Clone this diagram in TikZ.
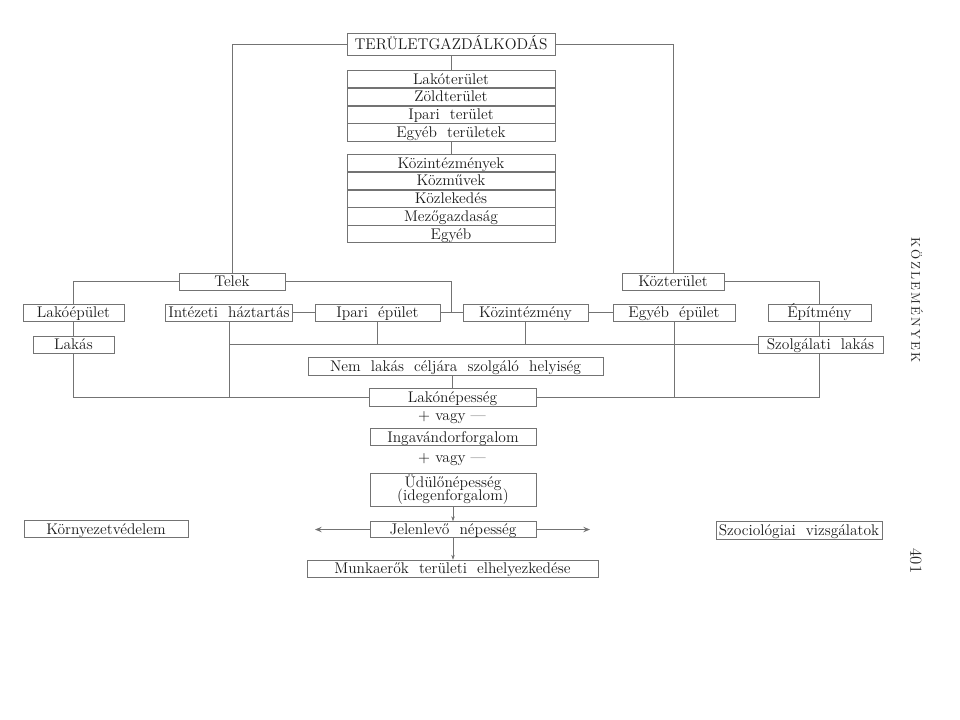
\documentclass[tikz,border=0pt]{standalone}
\usepackage{tikz}
\usetikzlibrary{arrows.meta, positioning}
\tikzstyle{cell} = [rectangle, draw=black!55, line width=0.4pt, text=black!90, inner xsep=2pt, inner ysep=0pt, minimum height=0.425cm, text height=1.75ex, text depth=0.1ex, text centered, font=\fontsize{11}{12.5}\selectfont]
\tikzstyle{row} = [cell, minimum width=5.2cm, minimum height=0.43cm]
\tikzstyle{link} = [draw=black!55, line width=0.4pt]
\tikzstyle{arrow} = [link, -{Stealth[length=3.5pt, width=2.5pt]}]
\tikzstyle{sidearrow} = [link, -{Stealth[length=5pt, width=4pt, inset=2pt]}]
\tikzstyle{note} = [text=black!90, font=\fontsize{11}{12.5}\selectfont]

\begin{document}
\begin{tikzpicture}[x=0.025cm, y=-0.025cm]
    \useasboundingbox (0,0) rectangle (960,719);

    % Nodes
    \node (top) [cell, minimum width=5.2cm, minimum height=0.55cm] at (451,44) {TERÜLETGAZDÁLKODÁS};

    \node (lakoter) [row] at (451,79) {Lakóterület};
    \node (zoldter) [row, below=0pt of lakoter] {Zöldterület};
    \node (iparter) [row, below=0pt of zoldter] {Ipari\ \ terület};
    \node (egyebter) [row, below=0pt of iparter] {Egyéb\ \ területek};

    \node (kozintek) [row] at (451,163) {Közintézmények};
    \node (kozmu) [row, below=0pt of kozintek] {Közművek};
    \node (kozlek) [row, below=0pt of kozmu] {Közlekedés};
    \node (mezo) [row, below=0pt of kozlek] {Mezőgazdaság};
    \node (egyeb) [row, below=0pt of mezo] {Egyéb};

    \node (telek) [cell, minimum width=2.65cm] at (232,281.5) {Telek};
    \node (kozter) [cell, minimum width=2.55cm] at (673,281.5) {Közterület};

    \node (lakoep) [cell, minimum width=2.52cm] at (73.5,312.5) {Lakóépület};
    \node (intezeti) [cell, minimum width=3.1cm] at (229,312.5) {Intézeti\ \ háztartás};
    \node (ipari) [cell, minimum width=3.12cm] at (377.5,312.5) {Ipari\ \ épület};
    \node (kozint) [cell, minimum width=3.12cm] at (525.5,312.5) {Közintézmény};
    \node (egyebep) [cell, minimum width=3.05cm] at (674,312.5) {Egyéb\ \ épület};
    \node (epitmeny) [cell, minimum width=2.58cm] at (819.5,312.5) {Építmény};

    \node (lakas) [cell, minimum width=2.02cm] at (73.5,344.5) {Lakás};
    \node (szolg) [cell, minimum width=3.12cm] at (820.5,344.5) {Szolgálati\ \ lakás};

    \node (nemlakas) [cell, minimum width=7.38cm, minimum height=0.45cm] at (455.5,366) {Nem\ \ lakás\ \ céljára\ \ szolgáló\ \ helyiség};
    \node (lakonep) [cell, minimum width=4.17cm, minimum height=0.45cm] at (452.5,397) {Lakónépesség};
    \node (vagy1) [note] at (452,418) {$+$ vagy ---};
    \node (inga) [cell, minimum width=4.15cm] at (453,437) {Ingavándorforgalom};
    \node (vagy2) [note] at (452,460) {$+$ vagy ---};
    \node (udulo) [cell, minimum width=4.15cm, minimum height=0.83cm, align=center, text height=, text depth=] at (453,489.5) {Üdülőnépesség\\[-3pt](idegenforgalom)};
    \node (jelen) [cell, minimum width=4.15cm, minimum height=0.4cm] at (453,529.5) {Jelenlevő\ \ népesség};
    \node (munka) [cell, minimum width=7.28cm] at (452.5,568.5) {Munkaerők\ \ területi\ \ elhelyezkedése};

    \node (kornyezet) [cell, minimum width=4.1cm] at (106,529) {Környezetvédelem};
    \node (szocio) [cell, minimum width=4.15cm, minimum height=0.45cm] at (799,530) {Szociológiai\ \ vizsgálatok};

    \node (kozlemenyek) [text=black!85, rotate=-90, font=\small] at (917,300) {K\,Ö\,Z\,L\,E\,M\,É\,N\,Y\,E\,K};
    \node (oldal) [text=black!85, rotate=-90, font=\large] at (916,561) {401};

    \coordinate (tjoin) at (451,312.5);
    \coordinate (leftend) at (315,529.5);
    \coordinate (rightend) at (590,529.5);

    % Connectors
    \draw [link] (top.west) -| (telek.north);
    \draw [link] (top.east) -| (kozter.north);
    \draw [link] (top.south) -- (lakoter.north);
    \draw [link] (egyebter.south) -- (kozintek.north);

    \draw [link] (telek.west) -| (lakoep.north);
    \draw [link] (lakoep.south) -- (lakas.north);
    \draw [link] (telek.east) -| (tjoin);
    \draw [link] (intezeti.east) -- (ipari.west);
    \draw [link] (ipari.east) -- (kozint.west);
    \draw [link] (kozint.east) -- (egyebep.west);
    \draw [link] (kozter.east) -| (epitmeny.north);
    \draw [link] (epitmeny.south) -- (epitmeny.south |- szolg.north);

    \draw [link] (intezeti.south |- szolg.west) -- (szolg.west);
    \draw [link] (ipari.south) -- (ipari.south |- szolg.west);
    \draw [link] (kozint.south) -- (kozint.south |- szolg.west);

    \draw [link] (lakas.south) |- (lakonep.west);
    \draw [link] (szolg.south -| epitmeny.south) |- (lakonep.east);
    \draw [link] (intezeti.south) -- (intezeti.south |- lakonep.west);
    \draw [link] (egyebep.south) -- (egyebep.south |- lakonep.east);
    \draw [link] (lakonep.north |- nemlakas.south) -- (lakonep.north);

    \draw [arrow] (udulo.south) -- (jelen.north);
    \draw [arrow] (jelen.south) -- (jelen.south |- munka.north);
    \draw [sidearrow] (jelen.west) -- (leftend);
    \draw [sidearrow] (jelen.east) -- (rightend);

\end{tikzpicture}
\end{document}
